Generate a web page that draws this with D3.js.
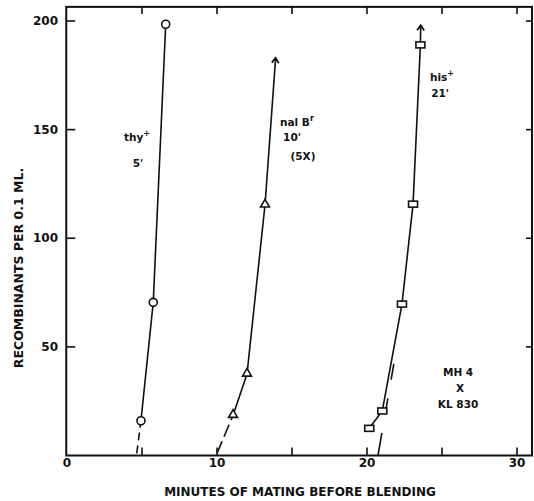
<!DOCTYPE html>
<html>
<head>
<meta charset="utf-8">
<script src="https://cdn.jsdelivr.net/npm/d3@7"></script>
<style>
  body { margin: 0; background: #fff; }
  svg { display: block; }
  text { font-family: "DejaVu Sans", sans-serif; font-weight: bold; fill: #111; }
</style>
</head>
<body>
<svg id="chart"></svg>
<script>
"use strict";

// thy+ (circles)
const thyMin = [4.93, 5.75, 6.58];
const thyRec = [16, 70.5, 198.5];
const thyLeadMin = [4.65, 4.93];
const thyLeadRec = [1, 16];

// nal B r (triangles)
const nalMin = [11.07, 12.0, 13.2];
const nalRec = [18.5, 37.5, 115.3];
const nalArrowMin = [13.2, 13.91];
const nalArrowRec = [115.3, 183];
const nalLeadMin = [10.0, 11.07];
const nalLeadRec = [1, 18.5];

// his+ (squares)
const hisMin = [20.15, 21.02, 22.33, 23.07, 23.56];
const hisRec = [12.5, 20.5, 69.7, 115.7, 189];
const hisArrowMin = [23.56, 23.58];
const hisArrowRec = [189, 198];
const hisExtraMin = [20.73, 21.8];
const hisExtraRec = [0, 42.6];

// axis ticks
const xTicks = [5, 10, 15, 20, 25, 30];
const xTickLabels = [0, 10, 20, 30];
const yTicks = [50, 100, 150, 200];

const W = 534, H = 501;
const svg = d3.select("#chart").attr("width", W).attr("height", H);

const x = d3.scaleLinear().domain([0, 30]).range([67, 517]);
const y = d3.scaleLinear().domain([0, 200]).range([455.5, 21]);
const xMax = 31, yMax = 206.5;

// frame
svg.append("rect")
  .attr("x", x(-0.05)).attr("y", y(yMax))
  .attr("width", x(xMax) - x(-0.05)).attr("height", y(0) - y(yMax))
  .attr("fill", "none").attr("stroke", "#111").attr("stroke-width", 2);

// inward ticks on all four sides
const tick = svg.append("g").attr("stroke", "#111").attr("stroke-width", 1.6);
xTicks.forEach(v => {
  tick.append("line").attr("x1", x(v)).attr("x2", x(v)).attr("y1", y(0)).attr("y2", y(0) - 8);
  tick.append("line").attr("x1", x(v)).attr("x2", x(v)).attr("y1", y(yMax)).attr("y2", y(yMax) + 7);
});
yTicks.forEach(v => {
  tick.append("line").attr("x1", x(-0.05)).attr("x2", x(-0.05) + 9).attr("y1", y(v)).attr("y2", y(v));
  tick.append("line").attr("x1", x(xMax)).attr("x2", x(xMax) - 6).attr("y1", y(v)).attr("y2", y(v));
});

// tick labels
svg.append("g").selectAll("text").data(xTickLabels).enter().append("text")
  .attr("x", d => x(d)).attr("y", 467)
  .attr("text-anchor", "middle").attr("font-size", "12px")
  .text(d => d);
svg.append("g").selectAll("text").data(yTicks).enter().append("text")
  .attr("x", 58).attr("y", d => y(d) + 4)
  .attr("text-anchor", "end").attr("font-size", "12px")
  .text(d => d);

// axis titles
svg.append("text")
  .attr("x", 300).attr("y", 496)
  .attr("text-anchor", "middle").attr("font-size", "12px")
  .text("MINUTES OF MATING BEFORE BLENDING");
svg.append("text")
  .attr("transform", "translate(23,268) rotate(-90)")
  .attr("text-anchor", "middle").attr("font-size", "12.5px")
  .text("RECOMBINANTS PER 0.1 ML.");

// arrow marker (open chevron)
svg.append("defs").append("marker")
  .attr("id", "arr").attr("viewBox", "-8 -6 12 12")
  .attr("refX", 0).attr("refY", 0)
  .attr("markerWidth", 12).attr("markerHeight", 12)
  .attr("markerUnits", "userSpaceOnUse").attr("orient", "auto")
  .append("path").attr("d", "M-5,-3.5 L0,0 L-5,3.5")
  .attr("fill", "none").attr("stroke", "#111").attr("stroke-width", 1.8);

const line = d3.line().x(d => x(d[0])).y(d => y(d[1]));
const pairs = (a, b) => a.map((v, i) => [v, b[i]]);

function curve(mins, recs, dash, arrow) {
  const p = svg.append("path").datum(pairs(mins, recs))
    .attr("d", line).attr("fill", "none")
    .attr("stroke", "#111").attr("stroke-width", 1.6);
  if (dash) p.attr("stroke-dasharray", dash);
  if (arrow) p.attr("marker-end", "url(#arr)");
}

curve(thyLeadMin, thyLeadRec, "8,5");
curve(thyMin, thyRec);
curve(nalLeadMin, nalLeadRec, "13,5");
curve(nalMin, nalRec);
curve(nalArrowMin, nalArrowRec, null, true);
curve(hisMin, hisRec);
curve(hisArrowMin, hisArrowRec, null, true);
curve(hisExtraMin, hisExtraRec, "23,24,11,19,16,60");

// markers
svg.append("g").selectAll("circle").data(pairs(thyMin, thyRec)).enter().append("circle")
  .attr("cx", d => x(d[0])).attr("cy", d => y(d[1])).attr("r", 4)
  .attr("fill", "#fff").attr("stroke", "#111").attr("stroke-width", 1.6);
svg.append("g").selectAll("path").data(pairs(nalMin, nalRec)).enter().append("path")
  .attr("transform", d => `translate(${x(d[0])},${y(d[1]) - 0.5})`)
  .attr("d", d3.symbol(d3.symbolTriangle, 34))
  .attr("fill", "#fff").attr("stroke", "#111").attr("stroke-width", 1.6);
svg.append("g").selectAll("rect").data(pairs(hisMin, hisRec)).enter().append("rect")
  .attr("x", d => x(d[0]) - 4.5).attr("y", d => y(d[1]) - 3)
  .attr("width", 9).attr("height", 6)
  .attr("fill", "#fff").attr("stroke", "#111").attr("stroke-width", 1.6);

// annotations
function note(min, rec, txt, sup) {
  const t = svg.append("text")
    .attr("x", x(min)).attr("y", y(rec) + 4)
    .attr("text-anchor", "middle").attr("font-size", "10.5px")
    .text(txt);
  if (sup) t.append("tspan").attr("dy", -5).attr("font-size", "8px").text(sup);
}
note(4.67, 146.5, "thy", "+");
note(4.73, 134.6, "5'");
note(15.33, 153.4, "nal B", "r");
note(15.0, 146.6, "10'");
note(15.73, 137.9, "(5X)");
note(25.0, 174.1, "his", "+");
note(24.87, 166.8, "21'");
note(26.07, 38.4, "MH 4");
note(26.2, 31.1, "X");
note(26.07, 23.7, "KL 830");
</script>
</body>
</html>
